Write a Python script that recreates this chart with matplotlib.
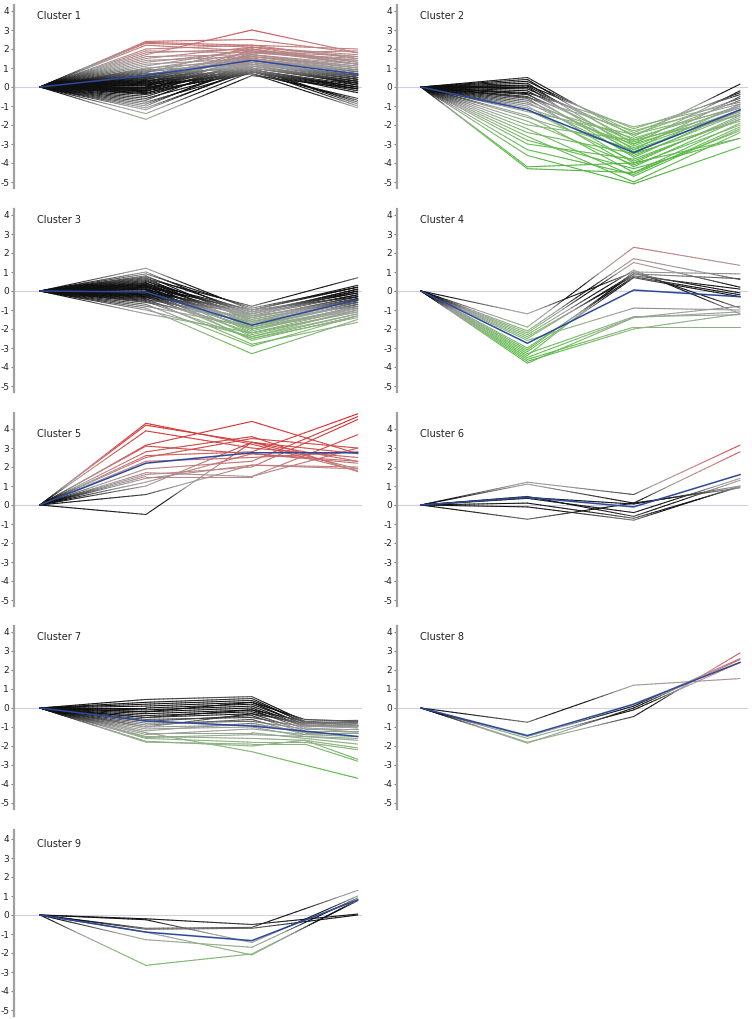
import numpy as np
import matplotlib
matplotlib.use("Agg")
import matplotlib.pyplot as plt
from matplotlib.collections import LineCollection
from matplotlib.colors import LinearSegmentedColormap, Normalize

plt.rcParams["axes.unicode_minus"] = False

# time points (first value of every profile is 0)
times = [0, 1, 2, 3]
times7 = [0, 1, 2, 2.5, 3]

# profiles: values at t1, t2, t3
c1 = [[2.4, 2.5, 1.8], [2.35, 2.2, 2.0], [2.3, 2.1, 1.7], [2.2, 1.9, 1.6], [2.0, 2.2, 1.5],
      [1.9, 1.8, 1.9], [1.8, 2.0, 1.3], [1.7, 3.0, 1.8], [1.6, 1.7, 1.2], [1.5, 2.1, 1.6],
      [1.4, 1.6, 1.0], [1.3, 1.9, 1.4], [1.2, 1.5, 0.8], [1.1, 2.0, 1.2], [1.0, 1.4, 0.9],
      [0.95, 1.8, 1.5], [0.9, 1.2, 0.6], [0.85, 1.6, 1.1], [0.8, 1.3, 0.5], [0.75, 2.1, 1.3],
      [0.7, 1.0, 0.3], [0.65, 1.5, 0.8], [0.6, 1.7, 1.0], [0.55, 1.1, 0.4], [0.5, 1.4, 0.7],
      [0.5, 0.9, 0.1], [0.45, 1.9, 1.2], [0.4, 1.2, 0.5], [0.4, 1.6, 0.9], [0.35, 0.8, -0.1],
      [0.3, 1.3, 0.6], [0.3, 1.0, 0.2], [0.25, 1.7, 1.1], [0.2, 0.9, 0.0], [0.2, 1.4, 0.8],
      [0.15, 1.1, 0.3], [0.1, 0.7, -0.6], [0.1, 1.5, 0.9], [0.05, 1.2, 0.4], [0.0, 0.8, -0.2],
      [0.0, 1.8, 1.4], [-0.05, 1.0, -0.8], [-0.1, 1.3, 0.6], [-0.1, 0.9, -1.0], [-0.15, 1.6, 1.0],
      [-0.2, 0.7, -1.1], [-0.2, 1.1, 0.2], [-0.25, 2.0, 1.2], [-0.3, 0.8, -0.7], [-0.35, 1.4, 0.5],
      [-0.4, 1.0, -0.9], [-0.5, 1.2, 0.1], [-0.6, 0.9, 0.0], [-0.7, 1.5, 0.7], [-0.8, 0.8, -0.3],
      [-0.9, 1.1, 0.3], [-1.0, 1.3, 0.4], [-1.1, 0.9, -0.1], [-1.2, 1.0, 0.2], [-1.4, 0.8, 0.0],
      [-1.7, 0.6, -0.1]]
m1 = [0.6, 1.4, 0.67]

c2 = [[0.5, -2.6, 0.15], [0.4, -3.0, -0.2], [0.3, -2.4, -0.3], [0.2, -3.3, -0.5], [0.1, -2.2, -0.4],
      [0.05, -2.8, -0.7], [0.0, -3.5, -0.9], [-0.1, -2.5, -0.6], [-0.2, -3.1, -1.0], [-0.3, -2.1, -0.8],
      [-0.35, -3.7, -1.2], [-0.4, -2.9, -1.1], [-0.5, -3.4, -1.3], [-0.55, -2.3, -0.9], [-0.6, -4.0, -1.5],
      [-0.7, -3.2, -1.2], [-0.8, -3.6, -1.4], [-0.9, -2.7, -1.0], [-1.0, -4.2, -1.7], [-1.1, -3.0, -1.3],
      [-1.2, -3.9, -1.6], [-1.3, -2.5, -1.1], [-1.5, -4.5, -1.9], [-1.6, -3.3, -1.4], [-1.8, -4.1, -2.0],
      [-2.0, -2.8, -1.5], [-2.2, -4.7, -2.2], [-2.4, -3.5, -1.8], [-2.6, -5.0, -2.4], [-2.8, -4.3, -2.7],
      [-3.0, -3.8, -1.7], [-3.3, -4.6, -2.1], [-3.6, -5.1, -3.15], [-4.2, -4.0, -2.7], [-4.3, -4.5, -2.3]]
m2 = [-1.2, -3.45, -1.2]

c3 = [[1.2, -1.0, -0.3], [1.0, -1.3, -0.6], [0.9, -0.9, 0.2], [0.8, -1.6, -0.8], [0.75, -1.1, -0.1],
      [0.7, -2.0, -1.0], [0.65, -0.8, 0.7], [0.6, -1.4, -0.4], [0.55, -1.8, -0.7], [0.5, -1.2, 0.1],
      [0.45, -2.2, -1.1], [0.4, -1.0, 0.3], [0.4, -1.5, -0.5], [0.35, -1.9, -0.9], [0.3, -1.1, 0.0],
      [0.3, -2.4, -1.2], [0.25, -1.3, -0.2], [0.2, -1.7, -0.6], [0.2, -1.0, 0.2], [0.15, -2.1, -0.8],
      [0.1, -1.4, -0.3], [0.1, -2.6, -1.3], [0.05, -1.2, 0.1], [0.0, -1.6, -0.5], [0.0, -2.0, -0.9],
      [-0.05, -1.1, -0.1], [-0.1, -1.8, -0.7], [-0.1, -2.3, -1.0], [-0.15, -1.3, 0.0], [-0.2, -1.5, -0.4],
      [-0.2, -2.5, -1.4], [-0.25, -1.9, -0.6], [-0.3, -1.2, -0.2], [-0.3, -2.2, -1.1], [-0.35, -1.7, -0.5],
      [-0.4, -2.8, -1.65], [-0.45, -1.4, -0.3], [-0.5, -2.0, -0.8], [-0.55, -2.5, -1.2], [-0.6, -1.6, -0.4],
      [-0.7, -2.9, -1.3], [-0.8, -1.9, -0.7], [-0.9, -3.3, -1.5], [-1.0, -2.4, -1.0], [-1.2, -2.2, -0.9]]
m3 = [-0.05, -1.8, -0.45]

c4 = [[-1.2, 1.0, 0.9], [-1.9, 2.3, 1.35], [-2.1, 1.7, 0.6], [-2.2, 1.5, 0.2], [-2.3, 1.1, -1.2],
      [-2.5, 0.9, 0.65], [-2.4, 0.8, 0.1], [-3.0, 0.75, -0.2], [-3.2, 0.7, -0.3], [-2.6, -0.9, -1.0],
      [-3.3, -1.35, -1.25], [-3.4, 1.0, -0.9], [-3.5, -1.4, -0.8], [-3.6, -1.9, -1.9], [-3.7, -2.0, -1.2],
      [-3.8, -1.4, -1.1], [-3.1, 0.9, -0.1]]
m4 = [-2.75, 0.05, -0.3]

c5 = [[4.3, 3.2, 1.8], [4.2, 3.3, 1.9], [3.9, 3.0, 2.5], [3.15, 4.4, 2.7], [3.1, 2.7, 2.3],
      [2.8, 3.6, 1.75], [2.6, 2.8, 4.8], [2.5, 3.5, 3.0], [2.3, 2.5, 2.8], [1.9, 2.3, 4.65],
      [1.6, 2.0, 4.5], [1.5, 1.5, 3.7], [1.4, 2.1, 2.0], [1.2, 2.7, 2.2], [1.0, 3.3, 2.7],
      [0.55, 2.1, 1.9], [-0.5, 3.3, 2.3], [1.7, 1.5, 3.0]]
m5 = [2.2, 2.75, 2.75]

c6 = [[1.2, 0.55, 3.15], [1.1, 0.1, 2.8], [0.45, -0.6, 1.3], [0.4, 0.05, 1.0], [0.35, -0.4, 1.4],
      [0.1, -0.7, 0.95], [-0.1, -0.8, 1.0], [-0.75, 0.1, 0.9]]
m6 = [0.4, -0.1, 1.6]

# cluster 7 has an extra point between t2 and t3
c7 = [[0.45, 0.6, -0.7, -0.65], [0.3, 0.5, -0.8, -0.7], [0.2, 0.4, -0.75, -0.8], [0.1, 0.3, -0.9, -0.9],
      [0.0, 0.2, -0.85, -0.75], [-0.1, 0.1, -0.95, -1.0], [-0.2, 0.0, -1.0, -0.9], [-0.3, -0.1, -1.1, -1.1],
      [-0.4, -0.2, -0.9, -1.0], [-0.5, -0.3, -1.2, -1.2], [-0.6, -0.5, -1.0, -0.8], [-0.7, -0.4, -1.3, -1.3],
      [-0.8, -0.7, -1.1, -1.0], [-0.9, -0.6, -1.4, -1.5], [-1.0, -0.9, -1.2, -1.2], [-1.1, -1.0, -1.5, -1.7],
      [-1.2, -0.8, -1.3, -1.1], [-1.3, -1.3, -1.6, -1.9], [-1.4, -1.1, -1.4, -1.3], [-1.5, -1.6, -1.7, -2.1],
      [-1.55, -1.4, -1.5, -1.6], [-1.6, -1.8, -1.8, -2.2], [-1.75, -2.0, -1.7, -2.7], [-1.8, -1.9, -1.9, -2.8],
      [-1.3, -2.3, -3.0, -3.7], [-0.2, 0.3, -0.6, -0.7], [-0.5, -0.1, -0.7, -0.9], [-1.0, -0.3, -0.8, -1.0]]
m7 = [-0.68, -0.95, -1.22, -1.5]

c8 = [[-0.75, 1.2, 1.55], [-1.5, 0.1, 2.6], [-1.8, -0.45, 2.9], [-1.85, 0.0, 2.55], [-1.6, -0.1, 2.4]]
m8 = [-1.45, 0.2, 2.4]

c9 = [[-0.2, -0.5, 0.05], [-0.25, -1.45, 1.0], [-0.7, -0.65, 1.3], [-0.75, -0.7, 0.0],
      [-1.3, -1.7, 0.9], [-2.65, -2.05, 0.75], [-0.9, -2.1, 0.8]]
m9 = [-0.9, -1.35, 0.8]

names = ["Cluster 1", "Cluster 2", "Cluster 3", "Cluster 4", "Cluster 5",
         "Cluster 6", "Cluster 7", "Cluster 8", "Cluster 9"]
profiles = [c1, c2, c3, c4, c5, c6, c7, c8, c9]
means = [m1, m2, m3, m4, m5, m6, m7, m8, m9]

# green - black - red colour scale on the expression value
cmap = LinearSegmentedColormap.from_list("expr", [
    (0.0, "#46b036"), (0.2, "#66bc52"), (0.3, "#88b47a"), (0.4, "#9c9c9c"),
    (0.47, "#101010"), (0.53, "#101010"), (0.6, "#9a9a9a"), (0.7, "#c08080"),
    (0.8, "#cf4a4a"), (1.0, "#e01818")])
norm = Normalize(-5, 5)


def gradient_lines(ax, xs, rows, lw=0.75):
    segs = []
    vals = []
    for r in rows:
        ys = [0.0] + list(r)
        for i in range(len(xs) - 1):
            px = np.linspace(xs[i], xs[i + 1], 25)
            py = np.linspace(ys[i], ys[i + 1], 25)
            pts = np.column_stack([px, py])
            segs.extend(np.stack([pts[:-1], pts[1:]], axis=1))
            vals.extend((py[:-1] + py[1:]) / 2)
    lc = LineCollection(segs, cmap=cmap, norm=norm, linewidths=lw, capstyle="round")
    lc.set_array(np.array(vals))
    ax.add_collection(lc)


fig = plt.figure(figsize=(7.52, 10.19), dpi=100)
W, H = 752.0, 1019.0
row_y4 = [11, 215, 429, 632, 839]   # pixel row of the "4" tick
row_top = [4.32, 4.32, 4.84, 4.32, 4.45]
ylo = -5.32
ppu = 19.0

for k in range(9):
    row = k // 2
    col = k % 2
    if col == 0:
        left_px, width_px, xl = 14, 348, (-0.245, 3.04)
    else:
        left_px, width_px, xl = 397, 351, (-0.226, 3.075)
    hi = row_top[row]
    top_px = row_y4[row] - (hi - 4) * ppu
    h_px = (hi - ylo) * ppu
    ax = fig.add_axes([left_px / W, 1 - (top_px + h_px) / H, width_px / W, h_px / H])
    ax.set_xlim(*xl)
    ax.set_ylim(ylo, hi)

    xs = times7 if k == 6 else times
    ax.axhline(0, color="#cfcfe2", lw=0.8, zorder=1)
    gradient_lines(ax, xs, profiles[k])
    ax.plot(xs, [0.0] + list(means[k]), color="#2c4a9a", lw=1.1, zorder=5)

    ax.text(xl[0] + 0.22, 3.75, names[k], fontsize=7, va="center", ha="left", color="#222222")

    for s in ["top", "right", "bottom"]:
        ax.spines[s].set_visible(False)
    ax.spines["left"].set_color("#a0a0a0")
    ax.spines["left"].set_linewidth(1.6)
    ax.set_xticks([])
    ax.set_yticks(range(-5, 5))
    ax.tick_params(axis="y", direction="out", length=2.5, width=0.8, color="#808080",
                   labelsize=6.5, pad=1, labelcolor="#222222")
    ax.patch.set_alpha(0)

fig.savefig("out.png", dpi=100)
